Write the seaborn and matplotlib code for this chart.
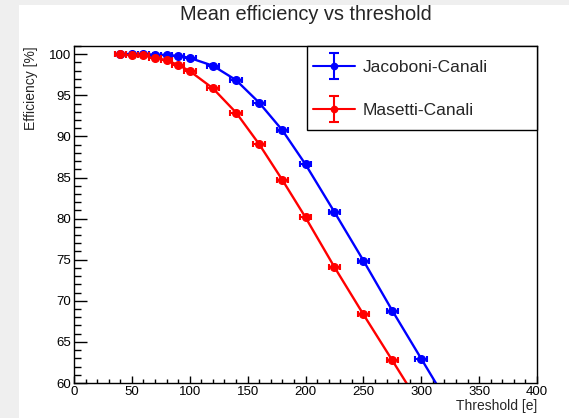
import numpy as np
import pandas as pd
import matplotlib
matplotlib.use("Agg")
import matplotlib.pyplot as plt
import seaborn as sns
from matplotlib.legend_handler import HandlerErrorbar
from matplotlib.container import ErrorbarContainer
from matplotlib.patches import Rectangle
from matplotlib.ticker import MultipleLocator

# ---- data ----
thresholds = [40, 50, 60, 70, 80, 90, 100, 120, 140, 160, 180, 200, 225, 250, 275, 300, 325]
jacoboni = [100.0, 100.0, 100.0, 99.95, 99.9, 99.8, 99.55, 98.6, 96.85, 94.1,
            90.75, 86.6, 80.8, 74.9, 68.8, 62.95, 57.1]
masetti = [100.0, 99.9, 99.85, 99.6, 99.25, 98.7, 97.95, 95.85, 92.9, 89.05,
           84.7, 80.15, 74.1, 68.35, 62.75, 57.1, 51.5]
x_err = 5.0
y_err = 0.15
series_names = ["Jacoboni-Canali", "Masetti-Canali"]
series_colors = ["#0000ff", "#ff0000"]
title = "Mean efficiency vs threshold"
x_label = "Threshold [e]"
y_label = "Efficiency [%]"

sns.set_theme(style="white")
plt.rcParams["font.family"] = ["Liberation Sans", "DejaVu Sans"]

df = pd.DataFrame({
    "Threshold": thresholds * 2,
    "Efficiency": jacoboni + masetti,
    "Model": [series_names[0]] * len(thresholds) + [series_names[1]] * len(thresholds),
})
palette = dict(zip(series_names, series_colors))

W, H = 569, 418
fig = plt.figure(figsize=(W / 100, H / 100), dpi=100, facecolor="#efefef")
fig.add_artist(Rectangle((19 / W, 0), 1, (H - 5) / H, transform=fig.transFigure,
                         facecolor="white", edgecolor="none", zorder=-10))

ax_h = 383 - 46
ax = fig.add_axes([74 / W, 1 - 383 / H, (537 - 74) / W, ax_h / H])
ax.set_facecolor("white")

sns.lineplot(data=df, x="Threshold", y="Efficiency", hue="Model", palette=palette,
             linewidth=1.7, legend=False, errorbar=None, ax=ax)

handles = []
for name, col, vals in zip(series_names, series_colors, [jacoboni, masetti]):
    ax.errorbar(thresholds, vals, xerr=x_err, yerr=y_err, fmt="o", color=col,
                ms=5.5, elinewidth=1.5, capsize=2, capthick=1.5, zorder=3)
    h = ax.errorbar([np.nan], [np.nan], yerr=[1.0], fmt="-o", color=col, lw=1.5,
                    ms=4.5, elinewidth=1.5, capsize=3.5, capthick=1.5, label=name)
    handles.append(h)

ax.set_xlim(0, 400)
ax.set_ylim(60, 101.0)
ax.set_xlabel("")
ax.set_ylabel("")

ax.xaxis.set_major_locator(MultipleLocator(50))
ax.xaxis.set_minor_locator(MultipleLocator(10))
ax.yaxis.set_major_locator(MultipleLocator(5))
ax.yaxis.set_minor_locator(MultipleLocator(1))
ax.tick_params(which="both", direction="in", left=True, bottom=True, top=False,
               right=False, colors="black", labelsize=9.5, pad=2)
ax.tick_params(axis="x", which="major", length=5, width=1)
ax.tick_params(axis="x", which="minor", length=2.9, width=1)
ax.tick_params(axis="y", which="major", length=9.4, width=1)
ax.tick_params(axis="y", which="minor", length=5, width=1)
for s in ax.spines.values():
    s.set_color("black")
    s.set_linewidth(1.0)

# legend frame (ROOT-like box in the upper right corner)
ax.add_patch(Rectangle((0.503, 0.751), 0.497, 0.249, transform=ax.transAxes,
                       facecolor="white", edgecolor="black", linewidth=1.0,
                       zorder=4.5, clip_on=False))
leg = ax.legend(handles=handles, labels=series_names,
                handler_map={ErrorbarContainer: HandlerErrorbar(xerr_size=1.2, yerr_size=0.75)},
                loc="upper left", bbox_to_anchor=(0.503, 1 - 8 / ax_h),
                borderaxespad=0, fontsize=12.5, frameon=False,
                handlelength=2.4, handletextpad=0.46,
                labelspacing=1.58, borderpad=0.35)
leg.set_zorder(5)

fig.text((74 + 537) / 2 / W, 1 - 15 / H, title, ha="center", va="center", fontsize=14.4)
fig.text(537 / W, 1 - 406 / H, x_label, ha="right", va="center", fontsize=10)
fig.text(31 / W, 1 - 46 / H, y_label, rotation=90, ha="center", va="top", fontsize=10)

fig.savefig("out.png", dpi=100, facecolor=fig.get_facecolor())
